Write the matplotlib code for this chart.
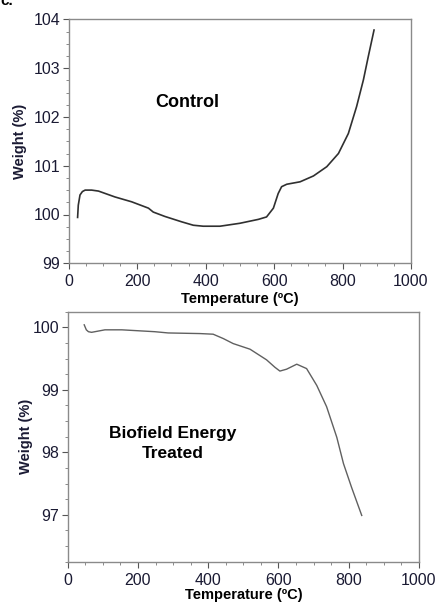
import matplotlib
matplotlib.use("Agg")
import matplotlib.pyplot as plt
from matplotlib.ticker import MultipleLocator

plt.rcParams['font.family'] = ['Liberation Sans', 'DejaVu Sans']

# Control sample
control_temp = [26, 28, 33, 40, 48, 67, 87, 135, 184, 233, 247, 281, 330, 364, 393, 442,
                500, 554, 578, 598, 612, 622, 637, 676, 715, 754, 788, 817, 841, 861,
                875, 892]
control_weight = [99.94, 100.19, 100.40, 100.47, 100.50, 100.50, 100.48, 100.36, 100.26,
                  100.13, 100.05, 99.96, 99.85, 99.78, 99.76, 99.76, 99.82, 99.90, 99.95,
                  100.13, 100.43, 100.57, 100.62, 100.67, 100.79, 100.98, 101.25, 101.66,
                  102.21, 102.76, 103.23, 103.78]

# Biofield energy treated sample
treated_temp = [47, 53, 59, 68, 106, 154, 248, 286, 377, 414, 443, 471, 519, 566, 590,
                604, 623, 652, 680, 709, 737, 766, 785, 808, 837]
treated_weight = [100.04, 99.96, 99.93, 99.92, 99.96, 99.96, 99.93, 99.91, 99.90, 99.89,
                  99.82, 99.74, 99.65, 99.48, 99.36, 99.30, 99.33, 99.41, 99.34, 99.07,
                  98.73, 98.24, 97.82, 97.44, 96.99]

top_yticks = [99, 100, 101, 102, 103, 104]
bot_yticks = [97, 98, 99, 100]
xticks = [0, 200, 400, 600, 800, 1000]

W, H = 439, 603
fig = plt.figure(figsize=(W / 100, H / 100), dpi=100)

def px_axes(l, t, r, b):
    return fig.add_axes([l / W, 1 - b / H, (r - l) / W, (b - t) / H])

ax1 = px_axes(68.7, 19.3, 411, 263.3)
ax2 = px_axes(67.7, 311.7, 419, 561.7)

tick_color = '#1a1a33'
spine_color = '#8a8a8a'

for ax in (ax1, ax2):
    for s in ax.spines.values():
        s.set_color(spine_color)
        s.set_linewidth(1.0)
    ax.set_xlim(0, 1000)
    ax.set_xticks(xticks)
    ax.xaxis.set_minor_locator(MultipleLocator(50))
    ax.yaxis.set_minor_locator(MultipleLocator(0.25))
    ax.tick_params(which='major', direction='out', length=4, width=0.8,
                   color='#555555', labelsize=11.5, labelcolor=tick_color, pad=2)
    ax.tick_params(axis='x', which='major', pad=4)
    ax.tick_params(which='minor', direction='out', length=2, width=0.6, color='#777777')
    ax.set_ylabel('Weight (%)', fontsize=10.5, fontweight='bold', color='#1a1a33')

ax1.set_xlabel('Temperature (ºC)', fontsize=10.5, fontweight='bold', labelpad=2)
ax2.set_xlabel('Temperature (ºC)', fontsize=10.5, fontweight='bold', labelpad=0)

ax1.plot(control_temp, control_weight, color='#303030', lw=1.2)
ax1.set_ylim(99, 104)
ax1.set_yticks(top_yticks)
ax1.text(345, 102.3, 'Control', ha='center', va='center', fontsize=13, fontweight='bold')
ax1.yaxis.set_label_coords(-0.122, 0.5)

ax2.plot(treated_temp, treated_weight, color='#606060', lw=1.0)
ax2.set_ylim(96.25, 100.25)
ax2.set_yticks(bot_yticks)
ax2.text(300, 98.14, 'Biofield Energy\nTreated', ha='center', va='center',
         fontsize=12.5, fontweight='bold', linespacing=1.4)
ax2.yaxis.set_label_coords(-0.099, 0.5)

fig.text(0.0, 0.998, 'c.', fontsize=11, fontweight='bold', ha='left', va='center')

fig.savefig('out.png', dpi=100)
